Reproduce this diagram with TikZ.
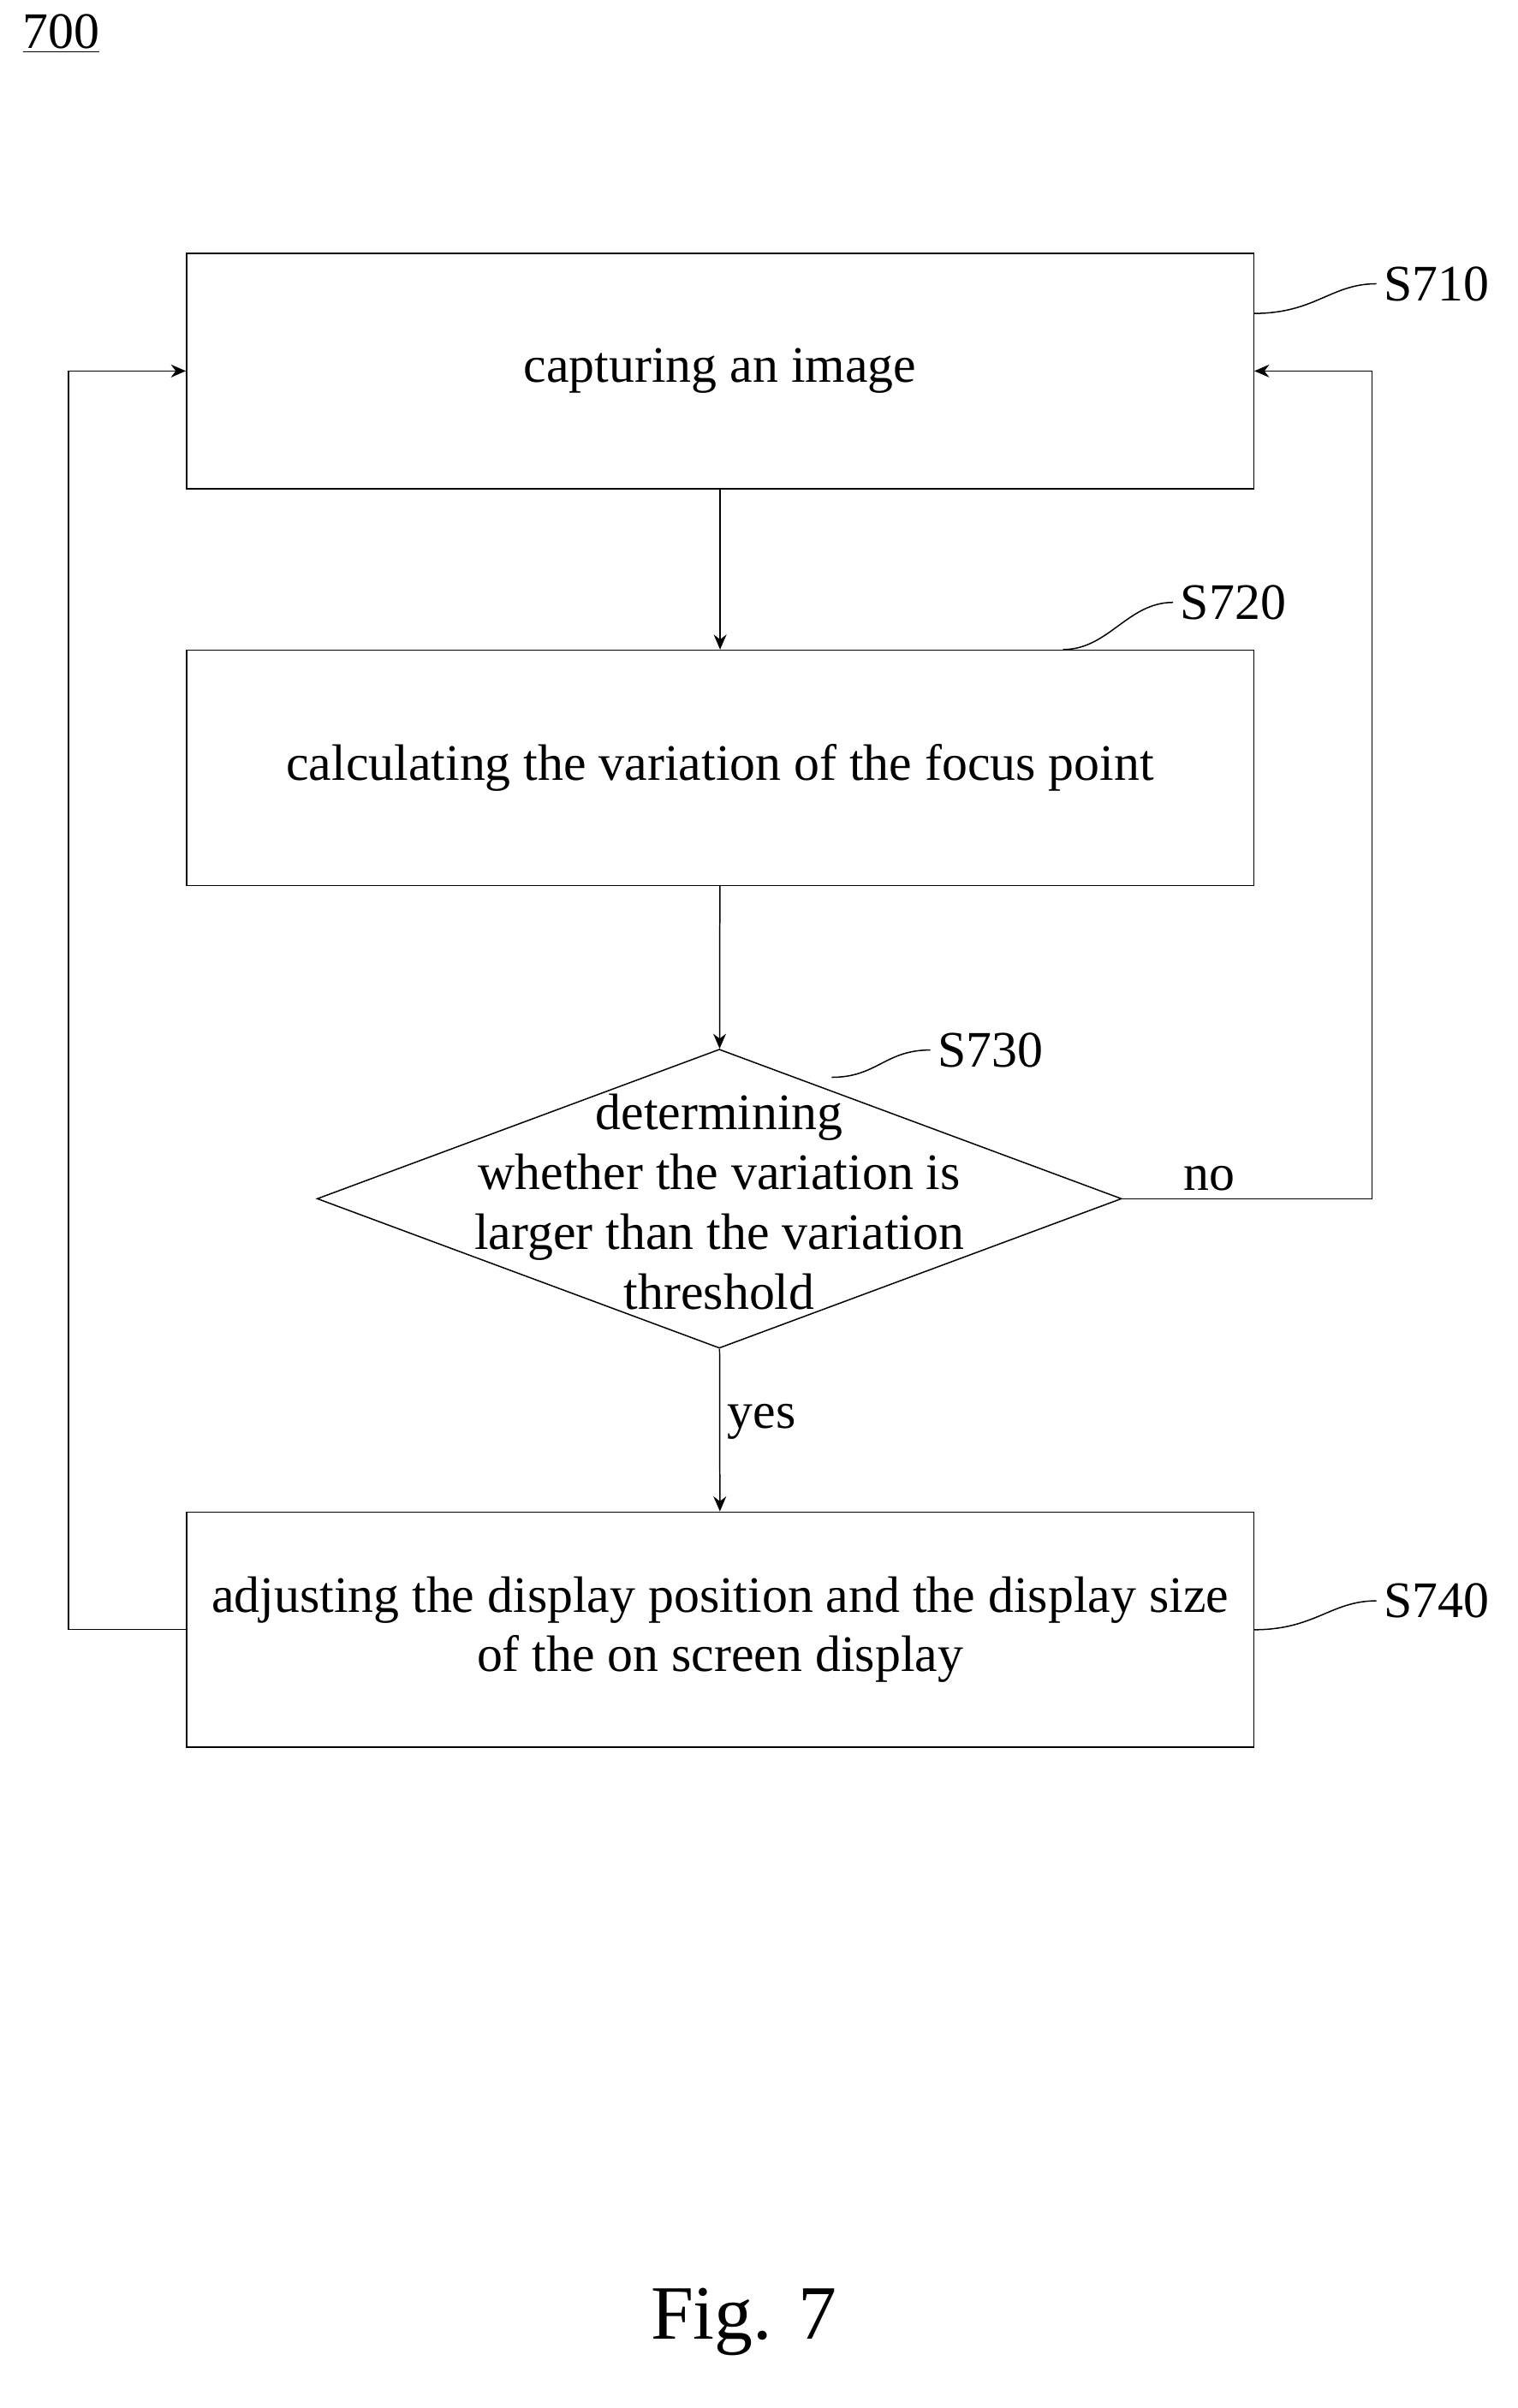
\documentclass[tikz,border=0pt]{standalone}
\usepackage{fontspec}
\setmainfont{Liberation Serif}
\usetikzlibrary{shapes.geometric,arrows.meta}
\tikzset{
  stepbox/.style={draw,semithick,minimum width=17.575cm,minimum height=3.875cm,inner sep=0pt,
    align=center,font=\fontsize{24}{28}\selectfont},
  lbl/.style={font=\fontsize{24}{28}\selectfont},
  flow/.style={-{Stealth[length=7pt,width=6pt]},semithick},
  tag/.style={semithick}
}
\begin{document}
\begin{tikzpicture}[x=0.025cm,y=-0.025cm]
  \useasboundingbox (0,0) rectangle (1000,1587);

% title
  \node[lbl,anchor=west] (fignum) at (10,22) {\underline{700}};

% steps
  \node[stepbox] (capture) at (474.5,244.5) {capturing an image};
  \node[stepbox] (calc) at (474.5,506) {calculating the variation of the focus point};
  \node[draw,semithick,diamond,minimum width=13.25cm,minimum height=4.925cm,inner sep=0pt] (check) at (474,790) {};
  \node[lbl,align=center] (checktxt) at (474,792) {determining\\whether the variation is\\larger than the variation\\threshold};
  \node[stepbox] (adjust) at (474.5,1074) {adjusting the display position and the display size\\of the on screen display};

% step tags
  \node[lbl,anchor=west] (t710) at (907,187) {S710};
  \node[lbl,anchor=west] (t720) at (773,397) {S720};
  \node[lbl,anchor=west] (t730) at (613,692) {S730};
  \node[lbl,anchor=west] (t740) at (907,1055) {S740};
  \draw[tag] (capture.north east) ++(0,40) .. controls +(40,0) and +(-30,0) .. (t710.west);
  \draw[tag] (calc.north east) ++(-126,0) .. controls +(30,0) and +(-30,0) .. (t720.west);
  \draw[tag] (548,710) .. controls +(30,0) and +(-30,0) .. (t730.west);
  \draw[tag] (adjust.north east) ++(0,78) .. controls +(40,0) and +(-30,0) .. (t740.west);

% connectors
  \draw[flow] (capture) -- (calc);
  \draw[flow] (calc) -- (check);
  \draw[flow] (check) -- node[lbl,right,pos=0.45] {yes} (adjust);
  \coordinate (noA) at (904,790);
  \coordinate (noB) at (904,244.5);
  \draw[flow] (check.east) -- node[lbl,above,pos=0.35] {no} (noA) -- (noB) -- (capture.east);
  \coordinate (backA) at (45,1074);
  \coordinate (backB) at (45,244.5);
  \draw[flow] (adjust.west) -- (backA) -- (backB) -- (capture.west);

% caption
  \node[font=\fontsize{36}{42}\selectfont] (caption) at (490,1530) {Fig. 7};
\end{tikzpicture}
\end{document}
